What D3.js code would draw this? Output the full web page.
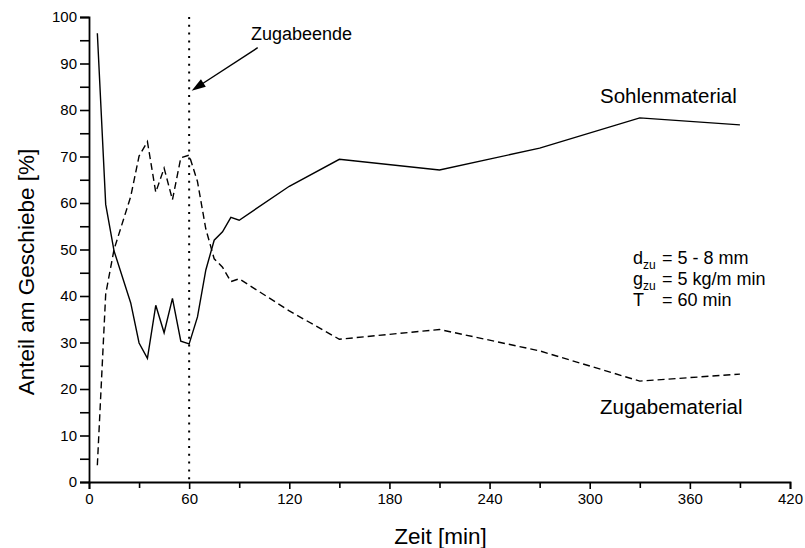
<!DOCTYPE html>
<html>
<head>
<meta charset="utf-8">
<script src="https://cdn.jsdelivr.net/npm/d3@7/dist/d3.min.js"></script>
<style>
  html, body { margin: 0; padding: 0; background: #fff; }
  svg { display: block; font-family: "Liberation Sans", Arial, sans-serif; }
</style>
</head>
<body>
<svg id="chart" width="805" height="548"></svg>
<script>
// Zeitpunkte der Probennahme [min]
const zeit = [5, 10, 15, 25, 30, 35, 40, 45, 50, 55, 60, 65, 70, 75, 80, 85, 90, 120, 150, 210, 270, 330, 390];
// Anteil Sohlenmaterial am Geschiebe [%]
const sohlenmaterial = [96.5, 59.7, 49.7, 38.5, 29.9, 26.6, 38.0, 32.1, 39.5, 30.3, 29.7, 35.5, 45.6, 52.0, 53.8, 56.9, 56.3, 63.6, 69.4, 67.1, 71.8, 78.3, 76.8];
// Anteil Zugabematerial am Geschiebe [%]
const zugabematerial = [3.6, 40.4, 50.0, 61.4, 70.1, 73.2, 62.3, 67.5, 60.7, 69.7, 70.3, 64.6, 54.4, 48.0, 46.2, 43.1, 43.7, 36.8, 30.7, 32.8, 28.2, 21.7, 23.2];
// Ende der Zugabe [min]
const zugabeende = 60;
// Achsenteilung
const xTicksMajor = [0, 60, 120, 180, 240, 300, 360, 420];
const xTicksMinor = [30, 90, 150, 210, 270, 330, 390];
const yTicks = [0, 5, 10, 15, 20, 25, 30, 35, 40, 45, 50, 55, 60, 65, 70, 75, 80, 85, 90, 95, 100];

const svg = d3.select("#chart");
const x = d3.scaleLinear().domain([0, 420]).range([89, 790]);
const y = d3.scaleLinear().domain([0, 100]).range([482, 17]);

// Achsen
const yAxis = d3.axisLeft(y).tickValues(yTicks).tickSize(9).tickPadding(3)
  .tickFormat(d => d % 10 === 0 ? d : "");
const gy = svg.append("g").attr("transform", `translate(${x(0)},0)`).call(yAxis);

const gxMinor = svg.append("g").attr("transform", `translate(0,${y(0)})`)
  .call(d3.axisBottom(x).tickValues(xTicksMinor).tickSize(6).tickFormat(""));
const gx = svg.append("g").attr("transform", `translate(0,${y(0)})`)
  .call(d3.axisBottom(x).tickValues(xTicksMajor).tickSize(7).tickPadding(4));

[gy, gx, gxMinor].forEach(g => {
  g.select(".domain").attr("stroke", "#000").attr("stroke-width", 1.8);
  g.selectAll(".tick line").attr("stroke", "#000").attr("stroke-width", 1.6);
  g.selectAll(".tick text").attr("fill", "#000").style("font-size", "15px")
    .style("font-family", "'Liberation Sans', Arial, sans-serif");
});
gxMinor.select(".domain").remove();

// Achsentitel
svg.append("text").attr("x", x(210) + 1).attr("y", 544)
  .attr("text-anchor", "middle").style("font-size", "22.5px").text("Zeit [min]");
svg.append("text").attr("transform", `translate(34,272) rotate(-90)`)
  .attr("text-anchor", "middle").style("font-size", "22.5px").text("Anteil am Geschiebe [%]");

// Zugabeende (gepunktete Linie)
svg.append("line")
  .attr("x1", x(zugabeende)).attr("x2", x(zugabeende))
  .attr("y1", y(100)).attr("y2", y(0))
  .attr("stroke", "#000").attr("stroke-width", 2)
  .attr("stroke-dasharray", "2,5.8");

// Messkurven
const line = d3.line().x((d, i) => x(zeit[i])).y(d => y(d));
svg.append("path").datum(sohlenmaterial).attr("d", line)
  .attr("fill", "none").attr("stroke", "#000").attr("stroke-width", 1.4);
svg.append("path").datum(zugabematerial).attr("d", line)
  .attr("fill", "none").attr("stroke", "#000").attr("stroke-width", 1.4)
  .attr("stroke-dasharray", "7,4");

// Beschriftung Zugabeende mit Pfeil
svg.append("text").attr("x", 251).attr("y", 40).style("font-size", "18px").text("Zugabeende");
const ax0 = 257.7, ay0 = 47.7, ax1 = x(zugabeende) + 2.5, ay1 = 90.7;
svg.append("line").attr("x1", ax0).attr("y1", ay0).attr("x2", ax1 + 8).attr("y2", ay1 - 5.2)
  .attr("stroke", "#000").attr("stroke-width", 1.4);
const ang = Math.atan2(ay1 - ay0, ax1 - ax0);
const L = 14, W = 4.5;
const bx = ax1 - L * Math.cos(ang), by = ay1 - L * Math.sin(ang);
svg.append("path")
  .attr("d", `M${ax1},${ay1} L${bx - W * Math.sin(ang)},${by + W * Math.cos(ang)} L${bx + W * Math.sin(ang)},${by - W * Math.cos(ang)} Z`)
  .attr("fill", "#000");

// Kurvenbeschriftungen
svg.append("text").attr("x", 600).attr("y", 103).style("font-size", "20.5px").text("Sohlenmaterial");
svg.append("text").attr("x", 600).attr("y", 414).style("font-size", "20.5px").text("Zugabematerial");

// Versuchsparameter
const params = [
  { sym: "d", sub: "zu", val: "= 5 - 8 mm" },
  { sym: "g", sub: "zu", val: "= 5 kg/m min" },
  { sym: "T", sub: "", val: "= 60 min" }
];
params.forEach((p, i) => {
  const by0 = 264 + i * 21;
  const t = svg.append("text").attr("x", 633).attr("y", by0).style("font-size", "18px");
  t.append("tspan").text(p.sym);
  if (p.sub) t.append("tspan").attr("dy", 5).style("font-size", "12px").text(p.sub);
  svg.append("text").attr("x", 662).attr("y", by0).style("font-size", "18px").text(p.val);
});
</script>
</body>
</html>
